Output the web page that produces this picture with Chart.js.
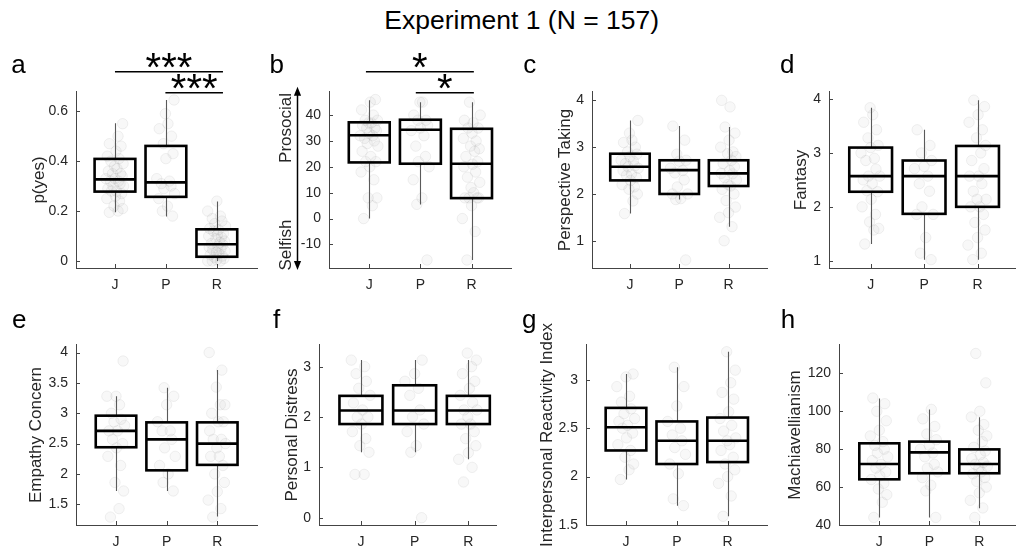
<!DOCTYPE html>
<html><head><meta charset="utf-8">
<script src="https://cdn.jsdelivr.net/npm/chart.js@4.4.0/dist/chart.umd.min.js"></script>
<style>
html,body{margin:0;padding:0;background:#fff;overflow:hidden;width:1016px;height:552px;}
#wrap{position:relative;width:1016px;height:552px;overflow:hidden;background:#fff;}
canvas{position:absolute;}
.t{position:absolute;font-family:"Liberation Sans",Arial,Helvetica,sans-serif;line-height:1;white-space:nowrap;color:#000;}
</style></head><body><div id="wrap"></div>
<script>
// ---------------- DATA ----------------
const categories = ['J', 'P', 'R'];

// (a) p(yes)
const pyesJ = [0.195,0.2,0.21,0.22,0.24,0.25,0.26,0.27,0.28,0.28,0.29,0.3,0.3,0.31,0.32,0.32,0.33,0.33,0.34,0.35,0.35,0.36,0.37,0.38,0.39,0.4,0.41,0.42,0.44,0.46,0.47,0.5,0.55];
const pyesP = [0.18,0.2,0.22,0.25,0.27,0.29,0.3,0.31,0.32,0.33,0.41,0.43,0.47,0.5,0.53,0.55,0.59,0.645];
const pyesR = [0,0,0,0.005,0.01,0.015,0.02,0.025,0.03,0.035,0.04,0.045,0.05,0.055,0.06,0.065,0.07,0.075,0.08,0.09,0.095,0.1,0.105,0.11,0.12,0.125,0.13,0.14,0.15,0.16,0.17,0.18,0.2,0.24];
// box stats: [whiskerLow, q1, median, q3, whiskerHigh] for J, P, R
const pyesBox = [[0.195,0.278,0.327,0.409,0.552],[0.178,0.257,0.315,0.461,0.645],[0,0.017,0.067,0.127,0.238]];
const pyesTicks = [0, 0.2, 0.4, 0.6];

// (b) prosocial - selfish
const socialJ = [0,5,8,8,15,18,20,22,22,24,26,28,29,30,31,32,32,33,34,35,35,36,37,37,38,38,40,42,45,46];
const socialP = [-16,5.5,8,15,20,22,24,28,32,34,35,36,38,38,40,45,45];
const socialR = [-16,-5,0,5,8,8,8,8,10,12,14,16,18,20,21,22,24,26,27,28,30,31,33,35,35,37,38,40,45];
const socialBox = [[0,21.7,32.2,37.2,45.7],[5.4,21.2,34.3,38.2,45],[-16,7.9,21.2,34.7,45]];
const socialTicks = [-10, 0, 10, 20, 30, 40];

// (c) Perspective Taking
const ptJ = [1.58,1.85,2.0,2.1,2.15,2.2,2.29,2.35,2.4,2.43,2.5,2.55,2.58,2.6,2.65,2.7,2.72,2.8,2.85,2.9,3.0,3.1,3.15,3.3,3.57];
const ptP = [0.59,1.88,1.9,2.0,2.0,2.15,2.3,2.45,2.5,2.55,2.7,2.72,2.85,3.15,3.45];
const ptR = [1.0,1.3,1.5,1.6,1.72,1.86,2.0,2.1,2.17,2.2,2.3,2.35,2.43,2.44,2.5,2.58,2.65,2.72,2.8,2.86,2.9,3.0,3.15,3.3,3.43,3.86,4.0];
const ptBox = [[1.58,2.29,2.58,2.86,3.57],[1.88,2.0,2.51,2.72,3.45],[1.3,2.17,2.44,2.72,3.43]];
const ptTicks = [1, 2, 3, 4];

// (d) Fantasy
const fsJ = [1.31,1.57,1.6,1.72,1.86,2.0,2.14,2.28,2.3,2.43,2.5,2.57,2.57,2.7,2.86,2.9,3.0,3.1,3.14,3.28,3.43,3.57,3.71,3.84];
const fsP = [1.02,1.14,1.43,1.86,1.86,2.0,2.29,2.43,2.57,2.71,2.75,2.86,3.0,3.14,3.43];
const fsR = [1.02,1.14,1.29,1.43,1.57,1.71,1.86,2.0,2.0,2.14,2.14,2.29,2.43,2.57,2.57,2.71,2.86,3.0,3.14,3.28,3.43,3.57,3.71,3.86,3.98];
const fsBox = [[1.31,2.28,2.57,3.1,3.84],[1.02,1.87,2.57,2.86,3.43],[1.02,2.0,2.57,3.13,3.98]];
const fsTicks = [1, 2, 3, 4];

// (e) Empathy Concern
const ecJ = [1.29,1.43,1.72,1.86,2.14,2.29,2.43,2.5,2.57,2.71,2.71,2.8,2.86,2.9,3.0,3.14,3.28,3.28,3.86];
const ecP = [1.72,1.86,2.0,2.14,2.29,2.43,2.57,2.71,2.71,2.86,3.14,3.28,3.42];
const ecR = [1.29,1.43,1.57,1.71,1.86,2.0,2.14,2.29,2.29,2.43,2.5,2.57,2.57,2.71,2.86,2.86,3.0,3.14,3.14,3.43,3.71,4.0];
const ecBox = [[1.72,2.44,2.71,2.96,3.28],[1.72,2.06,2.57,2.85,3.42],[1.3,2.15,2.5,2.85,3.71]];
const ecTicks = [1.5, 2, 2.5, 3, 3.5, 4];

// (f) Personal Distress
const pdJ = [0.86,0.86,1.3,1.43,1.57,1.71,1.86,2.0,2.0,2.14,2.28,2.43,2.57,2.71,2.86,3.0,3.13];
const pdP = [0,1.3,1.43,1.71,1.86,2.0,2.14,2.43,2.57,2.71,2.86,3.13];
const pdR = [0.71,1.0,1.16,1.29,1.43,1.57,1.71,1.86,1.86,2.0,2.14,2.14,2.29,2.43,2.57,2.71,2.86,3.0,3.13,3.27];
const pdBox = [[1.3,1.86,2.13,2.42,3.13],[1.3,1.86,2.13,2.63,3.13],[1.16,1.86,2.13,2.42,3.13]];
const pdTicks = [0, 1, 2, 3];

// (g) Interpersonal Reactivity Index
const iriJ = [1.97,2.07,2.13,2.2,2.27,2.33,2.4,2.45,2.5,2.53,2.57,2.6,2.65,2.7,2.77,2.83,2.93,3.03,3.06];
const iriP = [1.7,1.77,2.03,2.13,2.23,2.3,2.37,2.43,2.5,2.57,2.73,2.93,3.13];
const iriR = [1.59,1.8,1.93,2.0,2.07,2.13,2.2,2.27,2.33,2.37,2.4,2.47,2.53,2.6,2.67,2.8,2.87,2.97,3.1,3.29];
const iriBox = [[1.97,2.27,2.51,2.71,3.06],[1.7,2.13,2.37,2.57,3.13],[1.59,2.15,2.37,2.61,3.29]];
const iriTicks = [1.5, 2, 2.5, 3];

// (h) Machiavellianism
const machJ = [44,52,56,59,62,64,66,68,70,72,74,76,78,80,82,84,87,90,95,100,104,107];
const machP = [44,58,61,65,68,70,72,76,78,80,82,85,88,92,96,101];
const machR = [44,49,53,57,60,63,65,67,68,70,71,72,73,75,77,79,81,84,87,90,93,97,100,115,130.5];
const machBox = [[44,64.1,72.2,83.1,106.8],[44,67.3,78.3,84,101],[48.8,67.3,72.2,79.9,96.8]];
const machTicks = [40, 60, 80, 100, 120];

// hand-set horizontal jitter offsets (category units)
const jitter = [-0.11,0.06,0.15,-0.02,0.09,-0.16,0.01,0.13,-0.07,0.03,-0.14,0.17,-0.04,0.1,-0.09,0.07,-0.18,0.0,0.14,-0.05,0.11,-0.13,0.04,-0.01,0.16,-0.08,0.08,-0.15,0.02,0.12];

// ---------------- LAYOUT ----------------
const FONT = '"Liberation Sans", Arial, Helvetica, sans-serif';
const PADL = 80, PADT = 55, PADB = 32, PADR = 6;
const panels = [
  {id:'a', label:'p(yes)', groups:[pyesJ,pyesP,pyesR], box:pyesBox, ticks:pyesTicks,
   L:76,R:258,T:91,B:268, xmin:0.235,xmax:3.804, ymin:-0.028,ymax:0.681, lx:38, lett:[18.5,73.3],
   sig:[{x1:1.0,x2:3.12,dy:-19.3,s:'***'},{x1:1.99,x2:3.12,dy:1.7,s:'***'}]},
  {id:'b', label:null, groups:[socialJ,socialP,socialR], box:socialBox, ticks:socialTicks,
   L:329,R:512,T:91,B:268, xmin:0.213,xmax:3.787, ymin:-19.1,ymax:49.3, lett:[276.7,73.3], arrow:true,
   sig:[{x1:0.935,x2:3.045,dy:-19.3,s:'*'},{x1:1.91,x2:3.045,dy:1.7,s:'*'}]},
  {id:'c', label:'Perspective Taking', groups:[ptJ,ptP,ptR], box:ptBox, ticks:ptTicks,
   L:592,R:768,T:91,B:268, xmin:0.23,xmax:3.796, ymin:0.418,ymax:4.2, lx:564, lett:[529.7,73.3]},
  {id:'d', label:'Fantasy', groups:[fsJ,fsP,fsR], box:fsBox, ticks:fsTicks,
   L:829,R:1020,T:91,B:268, xmin:0.221,xmax:3.79, ymin:0.865,ymax:4.15, lx:800, lett:[787.3,73.3]},
  {id:'e', label:'Empathy Concern', groups:[ecJ,ecP,ecR], box:ecBox, ticks:ecTicks,
   L:76,R:258,T:344,B:525, xmin:0.21,xmax:3.80, ymin:1.16,ymax:4.14, lx:35, lett:[19.3,328.5]},
  {id:'f', label:'Personal Distress', groups:[pdJ,pdP,pdR], box:pdBox, ticks:pdTicks,
   L:319,R:497,T:344,B:525, xmin:0.219,xmax:3.53, ymin:-0.145,ymax:3.45, lx:290.5, lett:[276.7,328.5]},
  {id:'g', label:'Interpersonal Reactivity Index', groups:[iriJ,iriP,iriR], box:iriBox, ticks:iriTicks,
   L:586,R:768,T:344,B:525, xmin:0.213,xmax:3.79, ymin:1.5,ymax:3.37, lx:545.5, lett:[529.3,328.5]},
  {id:'h', label:'Machiavellianism', groups:[machJ,machP,machR], box:machBox, ticks:machTicks,
   L:839,R:1020,T:344,B:525, xmin:0.194,xmax:3.81, ymin:40,ymax:135.5, lx:794, lett:[788,328.5]}
];

const wrap = document.getElementById('wrap');
function txt(s, x, baseY, size, extra) {
  const d = document.createElement('div');
  d.className = 't'; d.textContent = s;
  d.style.fontSize = size + 'px';
  d.style.left = x + 'px';
  d.style.top = (baseY - 0.8465 * size) + 'px';
  d.style.transform = 'translateX(-50%)';
  if (extra) Object.assign(d.style, extra);
  wrap.appendChild(d); return d;
}
function rtxt(s, cx, cy, size) {
  const d = document.createElement('div');
  d.className = 't'; d.textContent = s;
  d.style.fontSize = size + 'px';
  d.style.left = cx + 'px'; d.style.top = cy + 'px';
  d.style.transform = 'translate(-50%,-50%) rotate(-90deg)';
  d.style.color = '#262626';
  wrap.appendChild(d); return d;
}

function makePanel(p) {
  const cv = document.createElement('canvas');
  const w = (p.R - p.L) + PADL + PADR, h = (p.B - p.T) + PADT + PADB;
  cv.width = w; cv.height = h;
  cv.style.width = w + 'px'; cv.style.height = h + 'px';
  cv.style.left = (p.L - PADL) + 'px'; cv.style.top = (p.T - PADT) + 'px';
  wrap.appendChild(cv);

  const datasets = p.groups.map((vals, gi) => ({
    data: vals.map((v, i) => ({x: gi + 1 + jitter[(i + gi * 7) % jitter.length], y: v})),
    pointRadius: 5.2,
    pointBackgroundColor: 'rgba(125,125,125,0.055)',
    pointBorderColor: 'rgba(125,125,125,0.11)',
    pointBorderWidth: 1,
    showLine: false
  }));

  const boxPlugin = {
    id: 'box_' + p.id,
    afterDatasetsDraw(chart) {
      const ctx = chart.ctx, xs = chart.scales.x, ys = chart.scales.y;
      const ca = chart.chartArea;
      ctx.save();
      // whiskers
      p.box.forEach((b, gi) => {
        const cx = Math.round(xs.getPixelForValue(gi + 1)) + 0.5;
        ctx.strokeStyle = '#5a5a5a'; ctx.lineWidth = 1.1;
        ctx.beginPath();
        ctx.moveTo(cx, ys.getPixelForValue(b[0])); ctx.lineTo(cx, ys.getPixelForValue(b[1]));
        ctx.moveTo(cx, ys.getPixelForValue(b[3])); ctx.lineTo(cx, ys.getPixelForValue(b[4]));
        ctx.stroke();
      });
      // boxes
      p.box.forEach((b, gi) => {
        const x0 = xs.getPixelForValue(gi + 1 - 0.4), x1 = xs.getPixelForValue(gi + 1 + 0.4);
        const yq1 = ys.getPixelForValue(b[1]), yq3 = ys.getPixelForValue(b[3]), ym = ys.getPixelForValue(b[2]);
        ctx.strokeStyle = '#000'; ctx.lineWidth = 2.6; ctx.lineJoin = 'miter';
        ctx.strokeRect(x0, yq3, x1 - x0, yq1 - yq3);
        ctx.beginPath(); ctx.moveTo(x0, ym); ctx.lineTo(x1, ym); ctx.stroke();
      });
      // inward ticks
      ctx.strokeStyle = '#444'; ctx.lineWidth = 1;
      ctx.beginPath();
      p.ticks.forEach(v => {
        const y = Math.round(ys.getPixelForValue(v)) + 0.5;
        ctx.moveTo(ca.left, y); ctx.lineTo(ca.left + 4, y);
      });
      [1, 2, 3].forEach(v => {
        const x = Math.round(xs.getPixelForValue(v)) + 0.5;
        ctx.moveTo(x, ca.bottom); ctx.lineTo(x, ca.bottom - 4);
      });
      ctx.stroke();
      ctx.restore();
    },
    afterDraw(chart) {
      const ctx = chart.ctx, xs = chart.scales.x, ca = chart.chartArea;
      ctx.save();
      if (p.sig) {
        p.sig.forEach(s => {
          const y = ca.top + s.dy;
          const a = xs.getPixelForValue(s.x1), b = xs.getPixelForValue(s.x2);
          ctx.strokeStyle = '#000'; ctx.lineWidth = 1.6;
          ctx.beginPath(); ctx.moveTo(a, y); ctx.lineTo(b, y); ctx.stroke();
          ctx.fillStyle = '#000';
          ctx.font = '40px ' + FONT;
          ctx.textAlign = 'center'; ctx.textBaseline = 'alphabetic';
          ctx.fillText(s.s, (a + b) / 2, y + 9);
        });
      }
      if (p.arrow) {
        const x = ca.left - 31.5, yt = ca.top - 4.3, yb = ca.bottom + 2;
        ctx.strokeStyle = '#000'; ctx.fillStyle = '#000'; ctx.lineWidth = 1.5;
        ctx.beginPath(); ctx.moveTo(x, yt + 6); ctx.lineTo(x, yb - 6); ctx.stroke();
        ctx.beginPath(); ctx.moveTo(x, yt); ctx.lineTo(x - 3.6, yt + 9); ctx.lineTo(x + 3.6, yt + 9); ctx.closePath(); ctx.fill();
        ctx.beginPath(); ctx.moveTo(x, yb); ctx.lineTo(x - 3.6, yb - 9); ctx.lineTo(x + 3.6, yb - 9); ctx.closePath(); ctx.fill();
      }
      ctx.restore();
    }
  };

  new Chart(cv, {
    type: 'scatter',
    data: {datasets},
    options: {
      responsive: false, animation: false, devicePixelRatio: 1,
      layout: {padding: {top: PADT, right: PADR, left: 0, bottom: 0}},
      plugins: {legend: {display: false}, tooltip: {enabled: false}},
      scales: {
        x: {
          type: 'linear', position: 'bottom', min: p.xmin, max: p.xmax,
          grid: {display: false, drawTicks: false},
          border: {display: true, color: '#444', width: 1},
          ticks: {font: {family: FONT, size: 14}, color: '#262626', padding: 9, maxRotation: 0, autoSkip: false,
                  callback: v => categories[v - 1]},
          afterBuildTicks: s => { s.ticks = [1, 2, 3].map(v => ({value: v})); },
          afterFit: s => { s.height = PADB; }
        },
        y: {
          type: 'linear', position: 'left', min: p.ymin, max: p.ymax,
          grid: {display: false, drawTicks: false},
          border: {display: true, color: '#444', width: 1},
          ticks: {font: {family: FONT, size: 14}, color: '#262626', padding: 8, autoSkip: false,
                  callback: v => String(v)},
          afterBuildTicks: s => { s.ticks = p.ticks.map(v => ({value: v})); },
          afterFit: s => { s.width = PADL; }
        }
      }
    },
    plugins: [boxPlugin]
  });

  // panel letter and y label
  txt(p.id, p.lett[0], p.lett[1], 26);
  if (p.label) rtxt(p.label, p.lx, (p.T + p.B) / 2, 17);
}

panels.forEach(makePanel);

// title and panel b side labels
txt('Experiment 1 (N = 157)', 521.7, 29.5, 26.5);
rtxt('Prosocial', 285, 128, 17);
rtxt('Selfish', 285, 245, 17);
</script></body></html>
